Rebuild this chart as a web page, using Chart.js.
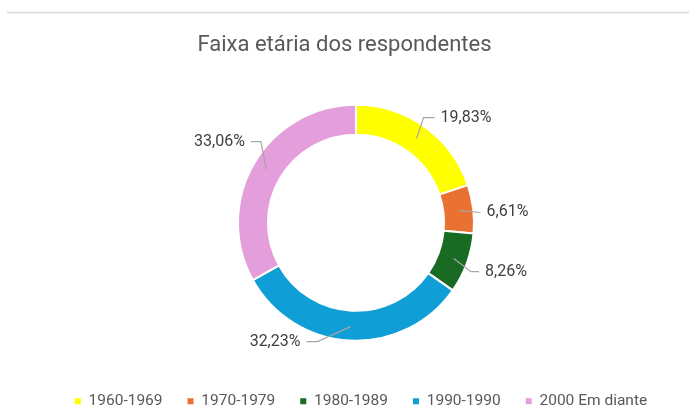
<!DOCTYPE html>
<html><head><meta charset="utf-8">
<script src="https://cdn.jsdelivr.net/npm/chart.js@4.4.0/dist/chart.umd.min.js"></script>
<style>html,body{margin:0;padding:0;background:#fff;} #wrap{width:689px;height:417px;position:relative;}</style>
</head><body><div id="wrap"><canvas id="c"></canvas></div>
<script>
const categories = ['1960-1969', '1970-1979', '1980-1989', '1990-1990', '2000 Em diante'];
const percentages = [19.83, 6.61, 8.26, 32.23, 33.06];
const sliceColors = ['#FFFF00', '#E97132', '#196B24', '#0F9ED5', '#E49EDC'];
const titleText = 'Faixa etária dos respondentes';

// leader-line styling: angular shift (degrees) of the elbow and horizontal run length
const leaderStyle = [{da: -3, h: 11}, {da: 2, h: 0}, {da: 3, h: 8}, {da: 15, h: 11}, {da: 10, h: 10}];
const FONT = 'Roboto';

function fmt(v) { return v.toFixed(2).replace('.', ',') + '%'; }

const decoPlugin = {
  id: 'deco',
  afterLayout(chart) {
    if (chart.legend) { chart.legend.left += 5; chart.legend.right += 5; }
  },
  beforeDraw(chart) {
    const ctx = chart.ctx;
    ctx.save();
    ctx.fillStyle = '#fff';
    ctx.fillRect(0, 0, chart.width, chart.height);
    ctx.strokeStyle = '#d9d9d9';
    ctx.lineWidth = 1.5;
    ctx.beginPath();
    ctx.moveTo(7, 12.5);
    ctx.lineTo(chart.width, 12.5);
    ctx.stroke();
    ctx.fillStyle = '#595959';
    ctx.font = '22px ' + FONT;
    ctx.textAlign = 'center';
    ctx.textBaseline = 'middle';
    ctx.fillText(titleText, chart.width / 2, 45);
    ctx.restore();
  },
  afterDatasetsDraw(chart) {
    const ctx = chart.ctx;
    const meta = chart.getDatasetMeta(0);
    ctx.save();
    meta.data.forEach((arc, i) => {
      const p = arc.getProps(['x', 'y', 'startAngle', 'endAngle', 'innerRadius', 'outerRadius'], true);
      const mid = (p.startAngle + p.endAngle) / 2;
      const rA = (p.innerRadius + p.outerRadius) / 2 + 1;
      const ax = p.x + Math.cos(mid) * rA, ay = p.y + Math.sin(mid) * rA;
      const ea = mid + leaderStyle[i].da * Math.PI / 180;
      const rE = p.outerRadius + 7;
      const ex = p.x + Math.cos(ea) * rE, ey = p.y + Math.sin(ea) * rE;
      const right = ex >= p.x;
      const hx = ex + (right ? 1 : -1) * leaderStyle[i].h;
      ctx.strokeStyle = '#a6a6a6';
      ctx.lineWidth = 1.2;
      ctx.beginPath();
      ctx.moveTo(ax, ay);
      ctx.lineTo(ex, ey);
      ctx.lineTo(hx, ey);
      ctx.stroke();
      ctx.fillStyle = '#404040';
      ctx.font = '16px ' + FONT;
      ctx.textAlign = right ? 'left' : 'right';
      ctx.textBaseline = 'middle';
      ctx.fillText(fmt(percentages[i]), hx + (right ? 6 : -6), ey);
    });
    ctx.restore();
  }
};

new Chart(document.getElementById('c'), {
  type: 'doughnut',
  data: {
    labels: categories,
    datasets: [{
      data: percentages,
      backgroundColor: sliceColors,
      borderColor: '#ffffff',
      borderWidth: 2,
      hoverOffset: 0
    }]
  },
  options: {
    responsive: true,
    maintainAspectRatio: false,
    animation: false,
    radius: 118,
    cutout: '74.6%',
    layout: { padding: { top: 77, left: 23, right: 0, bottom: -2 } },
    plugins: {
      title: { display: false },
      tooltip: { enabled: false },
      legend: {
        display: true,
        position: 'bottom',
        labels: {
          boxWidth: 6,
          boxHeight: 6,
          padding: 25,
          color: '#595959',
          font: { family: FONT, size: 15.5 },
          generateLabels(chart) {
            const items = Chart.overrides.doughnut.plugins.legend.labels.generateLabels(chart);
            return items.map(it => Object.assign(it, { lineWidth: 0, strokeStyle: it.fillStyle }));
          }
        }
      }
    }
  },
  plugins: [decoPlugin]
});
</script>
</body></html>
